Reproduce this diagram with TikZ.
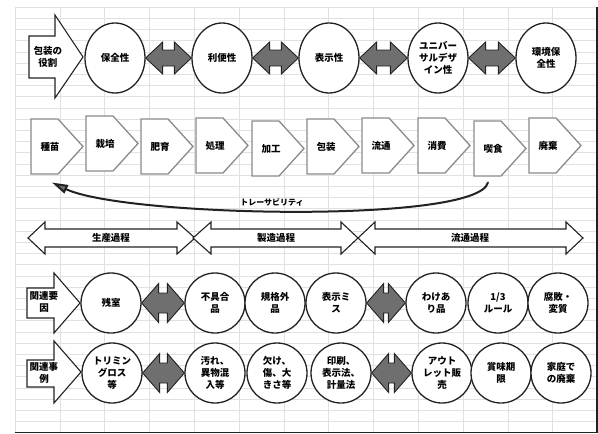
\documentclass[tikz,border=0pt]{standalone}
\usepackage{fontspec}
\setmainfont{Noto Sans CJK JP}
\usetikzlibrary{
  shapes.geometric, arrows.meta, positioning, calc
}
\definecolor{gridgray}{HTML}{E1E1E1}
\definecolor{linkgray}{HTML}{6F6F6F}
\definecolor{edgegray}{HTML}{8A8A8A}
\definecolor{inkdark}{HTML}{222222}

\begin{document}
\begin{tikzpicture}[
  x=1pt, y=-1pt,
  txt/.style={font=\fontsize{9.5}{12}\selectfont\bfseries,
    align=center, inner sep=0pt},
  ringnode/.style={circle, draw=inkdark, line width=1.3pt, fill=white,
    minimum size=60pt, txt},
  oval/.style={ellipse, draw=inkdark, line width=1.3pt, fill=white,
    minimum width=60pt, minimum height=70pt, txt},
  sidearrow/.style={draw=inkdark, line width=1.1pt, fill=white},
  chevron/.style={draw=edgegray, line width=1.3pt, fill=white},
  processbar/.style={draw=inkdark, line width=1.1pt, fill=white},
  twinlink/.style={draw=inkdark, line width=0.9pt, fill=linkgray},
  tracearrow/.style={-{Triangle[length=16pt, width=9pt, fill=linkgray]},
    line width=2pt, inkdark, line cap=round},
  gridline/.style={gridgray, line width=0.6pt}
]
  \useasboundingbox (0,0) rectangle (598,434);

  % Sheet
  \foreach \i in {0,...,12}
    \draw[gridline] (15+44.8*\i,7) -- (15+44.8*\i,432.6);
  \foreach \j in {0,...,38}
    \draw[gridline] (15,7+11.2*\j) -- (597.4,7+11.2*\j);
  \draw[inkdark, line width=1.5pt] (597,7) -- (597,432.6) -- (15,432.6);

  % Role of packaging
  \draw[sidearrow] (29,36) -- (55,36) -- (55,15) -- (83,57) -- (55,98)
    -- (55,78) -- (29,78) -- cycle;
  \node[txt] (role) at (48,57) {包装の\\役割};

  \node[oval] (keep) at (115,58) {保全性};
  \node[oval] (ease) at (222,58) {利便性};
  \node[oval] (info) at (329,58) {表示性};
  \node[oval] (udes) at (438,58) {ユニバー\\サルデザ\\イン性};
  \node[oval] (envi) at (546,58) {環境保\\全性};

  \foreach \a/\b in {keep/ease, ease/info, info/udes, udes/envi}
    \draw[twinlink] (\a.east) -- ++(17,-16) -- ++(0,8)
      -- ($(\b.west)+(-17,-8)$) -- ++(0,-8) -- (\b.west) -- ++(-17,16)
      -- ++(0,-8) -- ($(\a.east)+(17,8)$) -- ++(0,8) -- cycle;

  % Chain of steps
  \foreach \nm/\x/\y/\t in {seed/31/119/種苗, grow/86/116/栽培,
      feed/141/119/肥育, proc/196/118/処理, make/252/121/加工,
      pack/307/119/包装, flow/362/118/流通, buy/418/118/消費,
      eat/474/121/喫食, waste/529/118/廃棄} {
    \draw[chevron] (\x,\y) -- ++(27,0) -- ++(25,27.5) -- ++(-25,27.5)
      -- ++(-27,0) -- cycle;
    \node[txt] (\nm) at (\x+19,\y+27.5) {\t};
  }

  \draw[tracearrow] ($(eat)+(-5,34)$) .. controls (478,224) and (125,217)
    .. ($(seed)+(2,36)$);
  \node[txt, font=\fontsize{8}{10}\selectfont\bfseries] (trace)
    at (272,202) {トレーサビリティ};

  % Processes
  \draw[processbar] (28,238) -- (45,222) -- (45,229) -- (177,229)
    -- (177,222) -- (195,238) -- (177,254) -- (177,247) -- (45,247)
    -- (45,254) -- cycle;
  \draw[processbar] (193,238) -- (211,222) -- (211,229) -- (341,229)
    -- (341,222) -- (358,238) -- (341,254) -- (341,247) -- (211,247)
    -- (211,254) -- cycle;
  \draw[processbar] (358,238) -- (375,222) -- (375,229) -- (566,229)
    -- (566,222) -- (583,238) -- (566,254) -- (566,247) -- (375,247)
    -- (375,254) -- cycle;
  \node[txt] (farm) at (111,238) {生産過程};
  \node[txt] (factory) at (276,238) {製造過程};
  \node[txt] (market) at (470,238) {流通過程};

  % Causes
  \draw[sidearrow] (27,288) -- (54,288) -- (54,273) -- (80,303) -- (54,333)
    -- (54,318) -- (27,318) -- cycle;
  \node[txt] (cause) at (44,302) {関連要\\因};

  \node[ringnode] (loss) at (111,303) {残室};
  \node[ringnode] (defect) at (215,303) {不具合\\品};
  \node[ringnode] (offspec) at (275,303) {規格外\\品};
  \node[ringnode] (mislabel) at (336,303) {表示ミ\\ス};
  \node[ringnode] (wakeari) at (436,303) {わけあ\\り品};
  \node[ringnode] (third) at (498,303) {1/3\\ルール};
  \node[ringnode] (decay) at (558,303) {腐敗・\\変質};

  % Cases
  \draw[sidearrow] (27,360) -- (54,360) -- (54,341) -- (81,372) -- (54,403)
    -- (54,387) -- (27,387) -- cycle;
  \node[txt] (case) at (44,373) {関連事\\例};

  \node[ringnode] (trim) at (112,373) {トリミン\\グロス\\等};
  \node[ringnode] (dirt) at (215,373) {汚れ、\\異物混\\入等};
  \node[ringnode] (chip) at (277,373) {欠け、\\傷、大\\きさ等};
  \node[ringnode] (print) at (341,373) {印刷、\\表示法、\\計量法};
  \node[ringnode] (sale) at (442,373) {アウト\\レット販\\売};
  \node[ringnode] (expiry) at (501,373) {賞味期\\限};
  \node[ringnode] (home) at (561,373) {家庭で\\の廃棄};

  \foreach \a/\b in {loss/defect, mislabel/wakeari, trim/dirt, print/sale}
    \draw[twinlink] (\a.east) -- ++(17,-19.5) -- ++(0,9.5)
      -- ($(\b.west)+(-17,-10)$) -- ++(0,-9.5) -- (\b.west) -- ++(-17,19.5)
      -- ++(0,-9.5) -- ($(\a.east)+(17,10)$) -- ++(0,9.5) -- cycle;
\end{tikzpicture}
\end{document}
